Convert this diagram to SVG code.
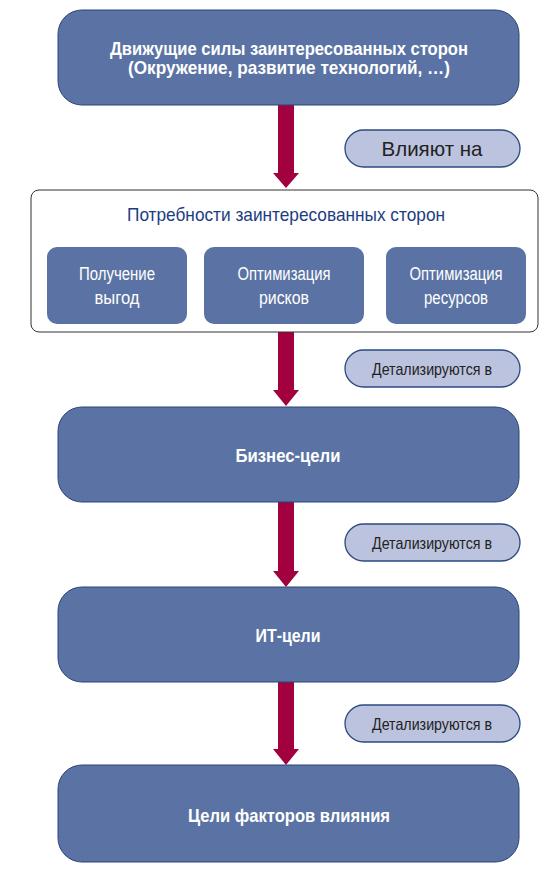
<svg xmlns="http://www.w3.org/2000/svg" width="540" height="877" viewBox="0 0 540 877">
<style>
.box{fill:#5b73a4;stroke:#2b4578;stroke-width:1}
.sub{fill:#5b73a4}
.pill{fill:#bcc3de;stroke:#2b4a80;stroke-width:1.3}
.cont{fill:#fff;stroke:#333;stroke-width:1}
.arr{fill:#a3003f}
.tw{font-family:"Liberation Sans",Arial,sans-serif;fill:#fff;text-anchor:middle}
.b{font-weight:bold;font-size:19px}
.s{font-size:18px}
.tp{font-family:"Liberation Sans",Arial,sans-serif;fill:#222;text-anchor:middle}
.tt{font-family:"Liberation Sans",Arial,sans-serif;fill:#1c3d82;text-anchor:middle;font-size:19px}
</style>
<g id="connectors">
<polygon class="arr" points="278,105 294,105 294,173 299,173 286,188 273,173 278,173"/>
<polygon class="arr" points="278,332 294,332 294,390 299,390 286,406 273,390 278,390"/>
<polygon class="arr" points="278,502 294,502 294,571 299,571 286,587 273,571 278,571"/>
<polygon class="arr" points="278,682 294,682 294,749 299,749 286,765 273,749 278,749"/>
</g>
<g id="drivers">
<rect class="box" x="58" y="10" width="461" height="95" rx="24"/>
<text class="tw b" x="289" y="55" textLength="358" lengthAdjust="spacingAndGlyphs">Движущие силы заинтересованных сторон</text>
<text class="tw b" x="289" y="74" textLength="322" lengthAdjust="spacingAndGlyphs">(Окружение, развитие технологий, …)</text>
</g>
<g id="label1">
<rect class="pill" x="345" y="130" width="175" height="37" rx="18.5"/>
<text class="tp" x="432" y="156" font-size="21" textLength="101" lengthAdjust="spacingAndGlyphs">Влияют на</text>
</g>
<g id="needs">
<rect class="cont" x="31" y="190" width="507" height="142" rx="8"/>
<text class="tt" x="286" y="221" textLength="318" lengthAdjust="spacingAndGlyphs">Потребности заинтересованных сторон</text>
</g>
<g id="benefits">
<rect class="sub" x="47" y="247" width="140" height="77" rx="10"/>
<text class="tw s" x="117" y="280" textLength="76" lengthAdjust="spacingAndGlyphs">Получение</text>
<text class="tw s" x="117" y="304" textLength="45" lengthAdjust="spacingAndGlyphs">выгод</text>
</g>
<g id="risks">
<rect class="sub" x="204" y="247" width="160" height="77" rx="10"/>
<text class="tw s" x="284" y="280" textLength="93" lengthAdjust="spacingAndGlyphs">Оптимизация</text>
<text class="tw s" x="284" y="304" textLength="50" lengthAdjust="spacingAndGlyphs">рисков</text>
</g>
<g id="resources">
<rect class="sub" x="386" y="247" width="140" height="77" rx="10"/>
<text class="tw s" x="456" y="280" textLength="93" lengthAdjust="spacingAndGlyphs">Оптимизация</text>
<text class="tw s" x="456" y="304" textLength="64" lengthAdjust="spacingAndGlyphs">ресурсов</text>
</g>
<g id="label2">
<rect class="pill" x="345" y="350" width="175" height="37" rx="18.5"/>
<text class="tp" x="432" y="375" font-size="17" textLength="120" lengthAdjust="spacingAndGlyphs">Детализируются в</text>
</g>
<g id="business">
<rect class="box" x="58" y="407" width="461" height="95" rx="24"/>
<text class="tw b" x="288" y="462" font-size="21" textLength="105" lengthAdjust="spacingAndGlyphs">Бизнес-цели</text>
</g>
<g id="label3">
<rect class="pill" x="345" y="524" width="175" height="37" rx="18.5"/>
<text class="tp" x="432" y="549" font-size="17" textLength="120" lengthAdjust="spacingAndGlyphs">Детализируются в</text>
</g>
<g id="it">
<rect class="box" x="58" y="587" width="461" height="95" rx="24"/>
<text class="tw b" x="288" y="642" font-size="21" textLength="65" lengthAdjust="spacingAndGlyphs">ИТ-цели</text>
</g>
<g id="label4">
<rect class="pill" x="345" y="705" width="175" height="37" rx="18.5"/>
<text class="tp" x="432" y="730" font-size="17" textLength="120" lengthAdjust="spacingAndGlyphs">Детализируются в</text>
</g>
<g id="enablers">
<rect class="box" x="58" y="765" width="461" height="97" rx="24"/>
<text class="tw b" x="289" y="822" font-size="21" textLength="202" lengthAdjust="spacingAndGlyphs">Цели факторов влияния</text>
</g>
</svg>
